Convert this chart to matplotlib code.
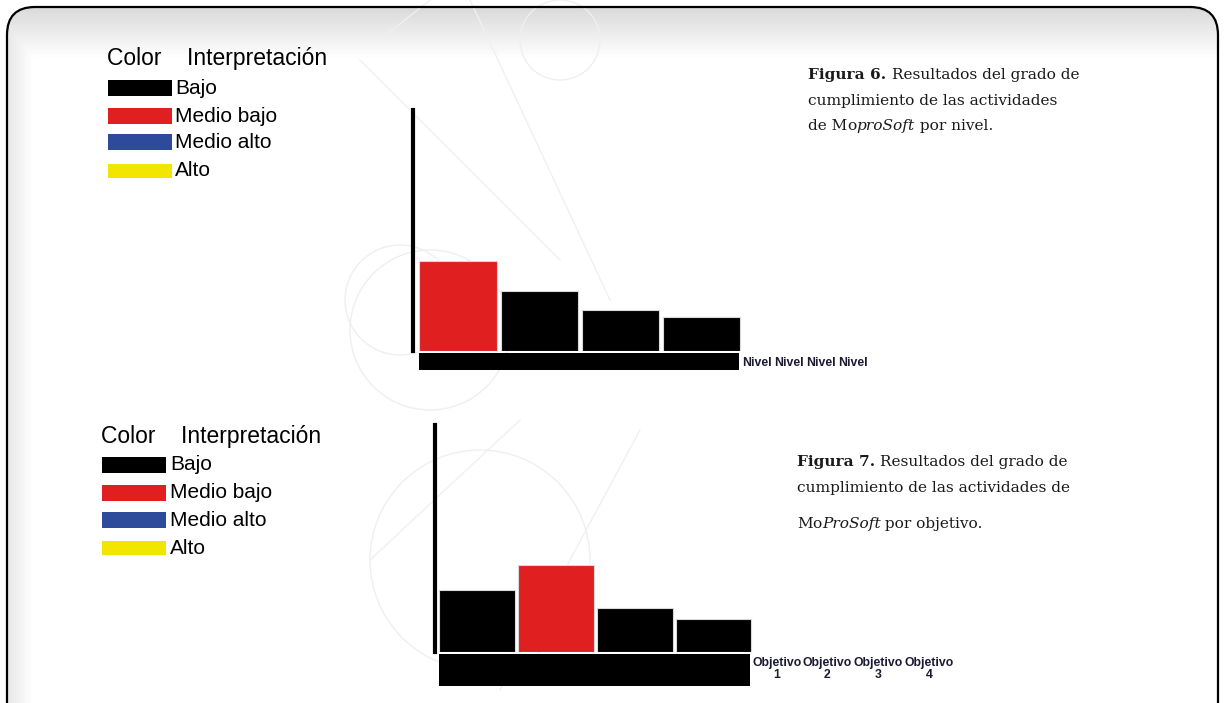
import numpy as np
import matplotlib
matplotlib.use("Agg")
import matplotlib.pyplot as plt
from matplotlib.patches import FancyBboxPatch, Rectangle, Circle

# ---------------- data ----------------
legend_labels = ["Bajo", "Medio bajo", "Medio alto", "Alto"]
legend_colors = ["#000000", "#e02020", "#2e4a9a", "#f2e600"]

niveles = ["Nivel", "Nivel", "Nivel", "Nivel"]
valores_nivel = [90, 60, 41, 34]
clase_nivel = ["Medio bajo", "Bajo", "Bajo", "Bajo"]

objetivos = ["Objetivo\n1", "Objetivo\n2", "Objetivo\n3", "Objetivo\n4"]
valores_objetivo = [62, 87, 44, 33]
clase_objetivo = ["Bajo", "Medio bajo", "Bajo", "Bajo"]

W, H = 1224, 703
fig = plt.figure(figsize=(W / 100, H / 100), dpi=100)
fig.patch.set_facecolor("white")

# background axes in pixel coordinates
bg = fig.add_axes([0, 0, 1, 1])
bg.set_xlim(0, W)
bg.set_ylim(H, 0)
bg.axis("off")

# rounded frame with soft grey shadow at top / left
frame = FancyBboxPatch((7, 7), 1211, 740, boxstyle="round,pad=0,rounding_size=28",
                       fc="none", ec="black", lw=1.6, zorder=5)
bg.add_patch(frame)
yy, xx = np.mgrid[0:H, 0:W]
fade_top = np.clip(1 - (yy - 8) / 50.0, 0, 1)
fade_left = np.clip(1 - (xx - 8) / 25.0, 0, 1)
alpha = np.maximum(fade_top, fade_left * 0.6) * 0.32
img = np.zeros((H, W, 4))
img[..., :3] = 0.55
img[..., 3] = alpha
im = bg.imshow(img, extent=(0, W, H, 0), zorder=1, interpolation="bilinear")
clipbox = FancyBboxPatch((7, 7), 1211, 740, boxstyle="round,pad=0,rounding_size=28",
                         fc="none", ec="none", transform=bg.transData)
bg.add_patch(clipbox)
im.set_clip_path(clipbox)

# faint watermark decoration
wm = dict(fc="none", ec="#efefef", lw=1.0, zorder=1.5)
for c, r in [((400, 300), 55), ((430, 330), 80), ((480, 560), 110), ((560, 40), 40)]:
    bg.add_patch(Circle(c, r, **wm))
for (x0, y0, x1, y1) in [(360, 60, 560, 260), (470, 0, 610, 300), (370, 560, 520, 420),
                         (500, 690, 640, 430), (380, 40, 430, 0)]:
    bg.plot([x0, x1], [y0, y1], color="#f0f0f0", lw=1.0, zorder=1.5)


def color_of(name):
    return legend_colors[legend_labels.index(name)]


def draw_legend(x, y_title, ys, x_label):
    bg.text(x, y_title, "Color    Interpretación", fontsize=16.5, family="Liberation Sans",
            va="center", ha="left", zorder=6)
    for lab, col, yc in zip(legend_labels, legend_colors, ys):
        h = 16 if col != "#f2e600" else 14
        bg.add_patch(Rectangle((x + 1, yc - h / 2), 64, h, fc=col, ec="none", zorder=6))
        bg.text(x_label, yc, lab, fontsize=15, family="Liberation Sans",
                va="center", ha="left", zorder=6)


draw_legend(107, 58, [88, 116, 142, 171], 175)
draw_legend(101, 437, [465, 493, 520, 548], 170)


def chart(left, right, top, bottom, values, classes, xlo, band_px, labels, label_x, label_y,
          lsize):
    ax = fig.add_axes([left / W, 1 - bottom / H, (right - left) / W, (bottom - top) / H])
    ax.patch.set_alpha(0)
    x = np.arange(len(values))
    ax.bar(x, values, width=0.96, color=[color_of(c) for c in classes],
           edgecolor="#d8d8d8", linewidth=0.8, zorder=3)
    ax.set_xlim(xlo, 3.5)
    ax.set_ylim(0, bottom - top)
    for s in ["top", "right", "bottom"]:
        ax.spines[s].set_visible(False)
    ax.spines["left"].set_linewidth(3)
    ax.set_xticks([])
    ax.set_yticks([])
    hpx = bottom - top
    band = Rectangle((-0.48, -band_px / hpx), 3.94, (band_px - 1.5) / hpx,
                     transform=ax.get_xaxis_transform(), fc="black", ec="none", clip_on=False)
    ax.add_patch(band)
    for lab, lx in zip(labels, label_x):
        bg.text(lx, label_y, lab, fontsize=lsize, fontweight="bold", family="Liberation Sans",
                color="#1a1a33", ha="center", va="center", linespacing=0.95, zorder=6)
    return ax


chart(413, 742, 110, 351, valores_nivel, clase_nivel, -0.56, 19, niveles,
      [757, 789, 821, 853], 363, 8.8)
chart(435, 753, 425, 652, valores_objetivo, clase_objetivo, -0.53, 34, objetivos,
      [777, 827, 878, 929], 669, 8.8)

# captions with mixed styles
fig.canvas.draw()
renderer = fig.canvas.get_renderer()


def runs(x, y, parts, size=11.1):
    for txt, weight, style in parts:
        t = bg.text(x, y, txt, fontsize=size, family="DejaVu Serif", fontweight=weight,
                    fontstyle=style, va="center", ha="left", color="#1a1a1a", zorder=6)
        bb = t.get_window_extent(renderer)
        x += bb.width


n, b, i = "normal", "bold", "italic"
runs(808, 75, [("Figura 6. ", b, n), ("Resultados del grado de", n, n)])
runs(808, 101, [("cumplimiento de las actividades", n, n)])
runs(808, 126, [("de M", n, n), ("o", n, n), ("proSoft", n, i), (" por nivel.", n, n)])

runs(797, 462, [("Figura 7. ", b, n), ("Resultados del grado de", n, n)])
runs(797, 488, [("cumplimiento de las actividades de", n, n)])
runs(797, 524, [("M", n, n), ("o", n, n), ("ProSoft", n, i), (" por objetivo.", n, n)])

fig.savefig("out.png", dpi=100)
